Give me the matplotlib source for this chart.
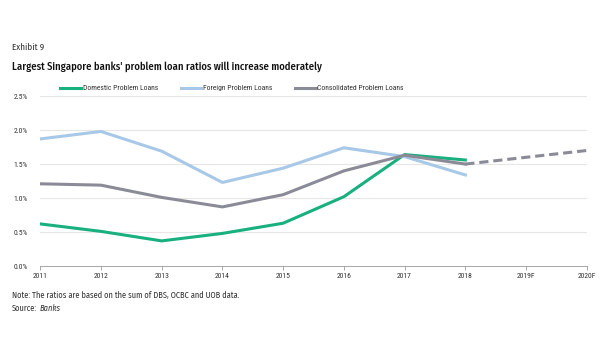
import numpy as np
import matplotlib
matplotlib.use("Agg")
import matplotlib.pyplot as plt

years = ["2011", "2012", "2013", "2014", "2015", "2016", "2017", "2018", "2019F", "2020F"]
domestic = [0.62, 0.51, 0.37, 0.48, 0.63, 1.02, 1.64, 1.56]
foreign = [1.87, 1.98, 1.69, 1.23, 1.44, 1.74, 1.61, 1.34]
consolidated = [1.21, 1.19, 1.01, 0.87, 1.05, 1.40, 1.63, 1.50]
forecast = [1.50, 1.60, 1.70]  # 2018 -> 2020F

GREEN = "#19b07f"
BLUE = "#a7c8e6"
GRAY = "#8b8b97"
NARROW = ["Roboto Condensed", "DejaVu Sans"]
HEAD = ["Fira Sans Condensed", "DejaVu Sans"]

fig = plt.figure(figsize=(6, 3.6), dpi=100)
ax = fig.add_axes([0.067, 0.261, 0.911, 0.472])

x = np.arange(len(years))
ax.plot(x[:8], domestic, color=GREEN, lw=2.2, label="Domestic Problem Loans")
ax.plot(x[:8], foreign, color=BLUE, lw=2.2, label="Foreign Problem Loans")
ax.plot(x[:8], consolidated, color=GRAY, lw=2.2, label="Consolidated Problem Loans")
ax.plot(x[7:], forecast, color=GRAY, lw=2.2, ls=(0, (3, 1.6)))

ax.set_xlim(0, len(years) - 1)
ax.set_ylim(0, 2.5)
ax.set_yticks(np.arange(0, 2.51, 0.5))
ax.set_yticklabels(["%.1f%%" % v for v in np.arange(0, 2.51, 0.5)], fontsize=5.5, family=NARROW, color="#333333")
ax.set_xticks(x)
ax.set_xticklabels(years, fontsize=5.5, family=NARROW, color="#333333")
ax.tick_params(axis="y", length=0, pad=9)
ax.tick_params(axis="x", length=3, width=0.6, color="#999999", pad=2)
ax.grid(axis="y", color="#e6e6e6", lw=0.8)
ax.set_axisbelow(True)
for s in ["top", "right", "left"]:
    ax.spines[s].set_visible(False)
ax.spines["bottom"].set_color("#999999")
ax.spines["bottom"].set_linewidth(0.6)

leg = ax.legend(loc="lower left", bbox_to_anchor=(0.03, 1.005), ncol=3, frameon=False,
                prop={"family": NARROW, "size": 5.5}, handlelength=2.7, columnspacing=3.0,
                handletextpad=0.2, borderaxespad=0.2, borderpad=0.3)
for t in leg.get_texts():
    t.set_color("#333333")

fig.text(0.02, 0.862, "Exhibit 9", fontsize=6.5, family=HEAD, color="#333333")
fig.text(0.02, 0.807, "Largest Singapore banks' problem loan ratios will increase moderately",
         fontsize=7.6, family=HEAD, fontweight="medium", color="#111111")
fig.text(0.02, 0.172, "Note: The ratios are based on the sum of DBS, OCBC and UOB data.",
         fontsize=6, family=HEAD, fontweight="normal", color="#333333")
fig.text(0.02, 0.135, "Source:", fontsize=6, family=HEAD, fontweight="normal", color="#333333")
fig.text(0.066, 0.135, "Banks", fontsize=6, family=HEAD, fontweight="normal", style="italic", color="#333333")

fig.savefig("out.png", dpi=100, facecolor="white")
